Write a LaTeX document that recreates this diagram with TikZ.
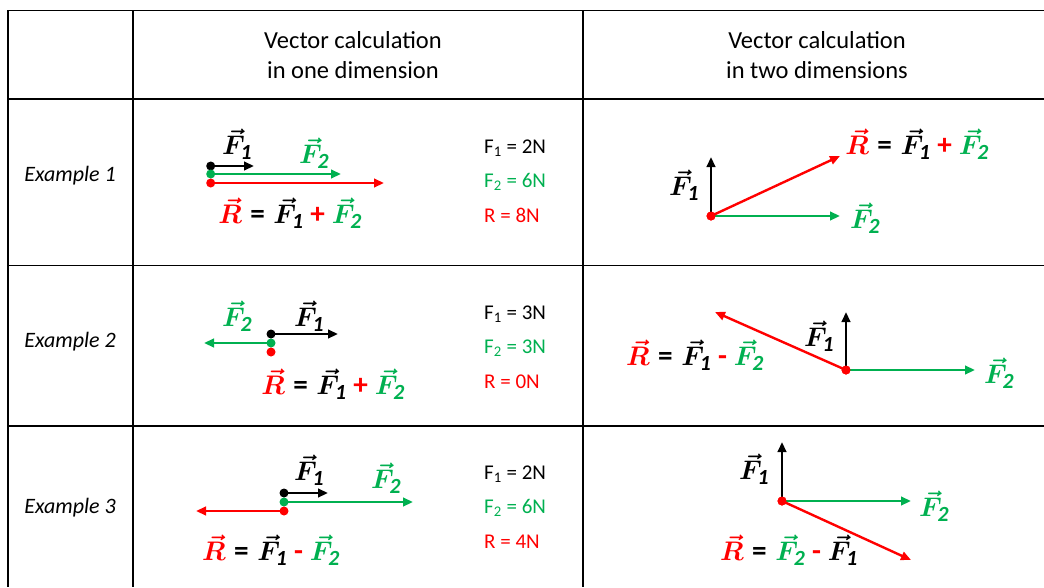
\documentclass[tikz,border=0pt]{standalone}
\usepackage{amsmath}
\usepackage{fontspec}
\setmainfont{Carlito}
\usetikzlibrary{arrows.meta}
\DeclareMathSizes{27}{27}{20}{15}
\definecolor{vred}{HTML}{FF0000}
\definecolor{vgreen}{HTML}{00B050}
\newcommand{\vF}[1]{\vec{F}_{\mathit{#1}}}
\newcommand{\vR}{\textcolor{vred}{\vec{R}}}
\newcommand{\req}{\mathrel{\text{\bfseries =}}}
\newcommand{\rplus}{\mathbin{\text{\textcolor{vred}{\bfseries +}}}}
\newcommand{\rminus}{\mathbin{\text{\textcolor{vred}{\bfseries -}}}}
\begin{document}
\begin{tikzpicture}[x=1pt,y=-1pt,
  grid/.style={line width=1.4pt},
  vec/.style={line width=2.4pt,-{Triangle[length=10pt,width=8.5pt]}},
  dot/.style={circle,fill,inner sep=0pt,minimum size=9pt},
  lbl/.style={font=\fontsize{27}{31}\selectfont\boldmath,inner sep=0pt,scale=1.08,transform shape},
  val/.style={font=\fontsize{21}{25}\selectfont,inner sep=0pt,anchor=west},
  ex/.style={font=\fontsize{22}{26}\selectfont\itshape,inner sep=0pt},
  head/.style={font=\fontsize{24.5}{30}\selectfont,align=center,inner sep=0pt}]
\useasboundingbox (0,0) rectangle (1044,587);

% table grid
\draw[grid] (7.5,10.5) -- (1044,10.5);
\draw[grid] (7.5,99) -- (1044,99);
\draw[grid] (7.5,265.5) -- (1044,265.5);
\draw[grid] (7.5,426) -- (1044,426);
\draw[grid] (8,10) -- (8,587);
\draw[grid] (133,10) -- (133,587);
\draw[grid] (583,10) -- (583,587);

% headers
\node[head] (h1) at (353,55) {Vector calculation\\in one dimension};
\node[head] (h2) at (817,55) {Vector calculation\\in two dimensions};
\node[ex] (ex1) at (70,176) {Example 1};
\node[ex] (ex2) at (70,342) {Example 2};
\node[ex] (ex3) at (70,508) {Example 3};

% values
\node[val] (v11) at (484,148) {F\textsubscript{1} = 2N};
\node[val,text=vgreen] (v12) at (484,182) {F\textsubscript{2} = 6N};
\node[val,text=vred] (v13) at (484,215) {R = 8N};
\node[val] (v21) at (484,314) {F\textsubscript{1} = 3N};
\node[val,text=vgreen] (v22) at (484,348) {F\textsubscript{2} = 3N};
\node[val,text=vred] (v23) at (484,382) {R = 0N};
\node[val] (v31) at (484,474) {F\textsubscript{1} = 2N};
\node[val,text=vgreen] (v32) at (484,508) {F\textsubscript{2} = 6N};
\node[val,text=vred] (v33) at (484,542) {R = 4N};

% ---- Example 1, one dimension
\coordinate (a1e) at (254,166);
\coordinate (a2e) at (341,174);
\coordinate (a3e) at (384,183);
\draw[vec,black] (210.7,166) coordinate (a1s) -- (a1e);
\draw[vec,vgreen] (210.7,174) coordinate (a2s) -- (a2e);
\draw[vec,vred] (210.7,183) coordinate (a3s) -- (a3e);
\node[dot,black] (a1d) at (a1s) {};
\node[dot,vgreen] (a2d) at (a2s) {};
\node[dot,vred] (a3d) at (a3s) {};
\node[lbl] (a1l) at (237,144) {$\vF1$};
\node[lbl,text=vgreen] (a2l) at (314,153) {$\vF2$};
\node[lbl] (a3l) at (290,213) {$\vR \req \vF1 \rplus \textcolor{vgreen}{\vF2}$};

% ---- Example 1, two dimensions
\node[dot,vred] (b0) at (711,216) {};
\coordinate (b1) at (711,157);
\coordinate (b2) at (840,216);
\coordinate (b3) at (840,156);
\draw[vec,black] (b0.center) -- (b1);
\draw[vec,vgreen] (b0.center) -- (b2);
\draw[vec,vred] (b0.center) -- (b3);
\node[dot,vred] at (b0) {};
\node[lbl] (b1l) at (684,185) {$\vF1$};
\node[lbl,text=vgreen] (b2l) at (865,218) {$\vF2$};
\node[lbl] (b3l) at (917,144) {$\vR \req \vF1 \rplus \textcolor{vgreen}{\vF2}$};

% ---- Example 2, one dimension
\coordinate (c1e) at (338,334);
\coordinate (c2e) at (204,343);
\draw[vec,black] (271,334) coordinate (c1s) -- (c1e);
\draw[vec,vgreen] (271,343) coordinate (c2s) -- (c2e);
\node[dot,black] (c1d) at (c1s) {};
\node[dot,vgreen] (c2d) at (c2s) {};
\node[dot,vred] (c3d) at (271,352) {};
\node[lbl] (c1l) at (309,316) {$\vF1$};
\node[lbl,text=vgreen] (c2l) at (237,316) {$\vF2$};
\node[lbl] (c3l) at (333,384) {$\vR \req \vF1 \rplus \textcolor{vgreen}{\vF2}$};

% ---- Example 2, two dimensions
\node[dot,vred] (d0) at (846,370) {};
\coordinate (d1) at (846,312);
\coordinate (d2) at (975,370);
\coordinate (d3) at (715,312);
\draw[vec,black] (d0.center) -- (d1);
\draw[vec,vgreen] (d0.center) -- (d2);
\draw[vec,vred] (d0.center) -- (d3);
\node[dot,vred] at (d0) {};
\node[lbl] (d1l) at (819,336) {$\vF1$};
\node[lbl,text=vgreen] (d2l) at (999,373) {$\vF2$};
\node[lbl] (d3l) at (695,355) {$\vR \req \vF1 \rminus \textcolor{vgreen}{\vF2}$};

% ---- Example 3, one dimension
\coordinate (e1e) at (328,493);
\coordinate (e2e) at (413,502);
\coordinate (e3e) at (196,511);
\draw[vec,black] (284,493) coordinate (e1s) -- (e1e);
\draw[vec,vgreen] (284,502) coordinate (e2s) -- (e2e);
\draw[vec,vred] (284,511) coordinate (e3s) -- (e3e);
\node[dot,black] (e1d) at (e1s) {};
\node[dot,vgreen] (e2d) at (e2s) {};
\node[dot,vred] (e3d) at (e3s) {};
\node[lbl] (e1l) at (309,470) {$\vF1$};
\node[lbl,text=vgreen] (e2l) at (386,478) {$\vF2$};
\node[lbl] (e3l) at (271,550) {$\vR \req \vF1 \rminus \textcolor{vgreen}{\vF2}$};

% ---- Example 3, two dimensions
\node[dot,vred] (f0) at (782,501) {};
\coordinate (f1) at (782,442);
\coordinate (f2) at (911,501);
\coordinate (f3) at (911,560);
\draw[vec,black] (f0.center) -- (f1);
\draw[vec,vgreen] (f0.center) -- (f2);
\draw[vec,vred] (f0.center) -- (f3);
\node[dot,vred] at (f0) {};
\node[lbl] (f1l) at (754,469) {$\vF1$};
\node[lbl,text=vgreen] (f2l) at (934,506) {$\vF2$};
\node[lbl] (f3l) at (789,550) {$\vR \req \textcolor{vgreen}{\vF2} \rminus \vF1$};
\end{tikzpicture}
\end{document}
